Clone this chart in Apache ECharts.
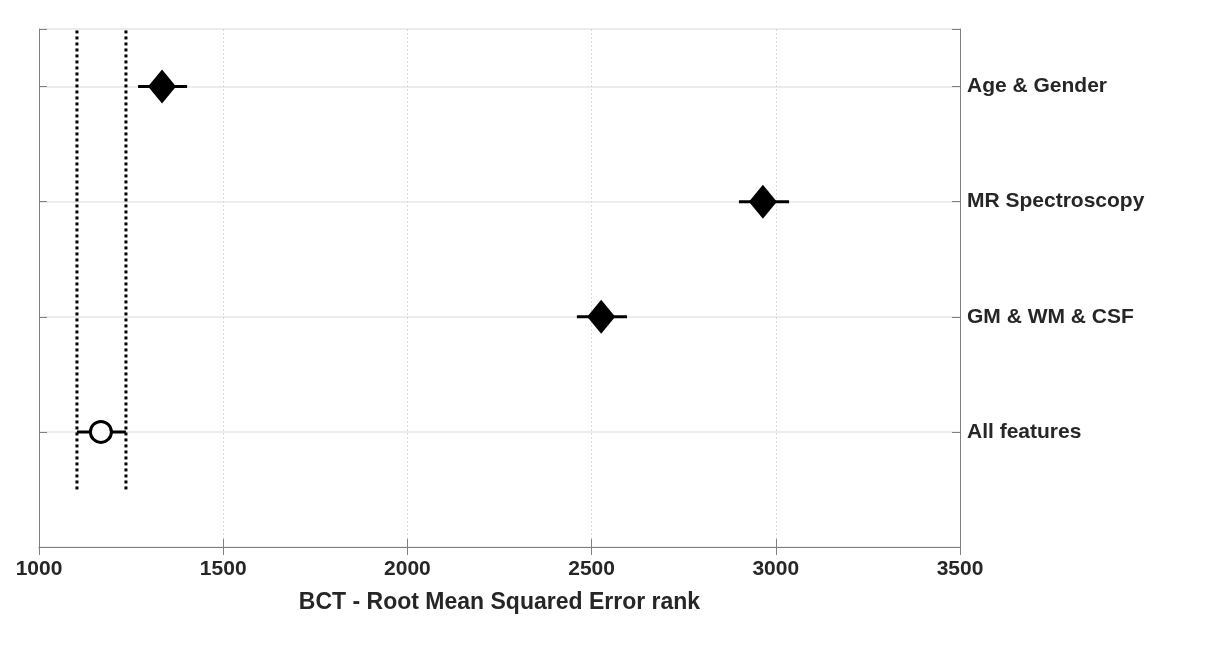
<!DOCTYPE html>
<html>
<head>
<meta charset="utf-8">
<script src="https://cdn.jsdelivr.net/npm/echarts@6/dist/echarts.min.js"></script>
<style>
  html, body { margin: 0; padding: 0; background: #fff; }
  #chart { width: 1222px; height: 648px; }
</style>
</head>
<body>
<div id="chart"></div>
<script>
// categories, bottom to top (y = 1..4)
const categories = ['All features', 'GM & WM & CSF', 'MR Spectroscopy', 'Age & Gender'];
const rankMean = [1168, 2526, 2965, 1334];
const rankLow = [1103, 2460, 2900, 1269];
const rankHigh = [1236, 2596, 3036, 1402];
const isReference = [true, false, false, false];
// dotted reference band (All features interval)
const refLines = [1103, 1236];
const xTicks = [1000, 1500, 2000, 2500, 3000, 3500];

const textColor = '#262626';
const frameColor = '#808080';
const font = 'Liberation Sans, Arial, sans-serif';

const chart = echarts.init(document.getElementById('chart'));

const errData = categories.map((c, i) => [rankLow[i], rankHigh[i], i + 1]);
const diamondData = [];
const circleData = [];
categories.forEach((c, i) => {
    if (isReference[i]) circleData.push([rankMean[i], i + 1]);
    else diamondData.push([rankMean[i], i + 1]);
});

const option = {
    animation: false,
    grid: { left: 39, right: 262, top: 29, bottom: 101 },
    xAxis: [
        {
            type: 'value', min: xTicks[0], max: xTicks[xTicks.length - 1], interval: 500,
            position: 'bottom',
            name: 'BCT - Root Mean Squared Error rank',
            nameLocation: 'middle', nameGap: 44,
            nameTextStyle: { color: textColor, fontSize: 23, fontWeight: 'bold', fontFamily: font },
            axisLine: { show: true, lineStyle: { color: frameColor, width: 1 } },
            axisTick: { show: true, inside: true, length: 8, lineStyle: { color: frameColor } },
            axisLabel: {
                color: textColor, fontSize: 21, fontWeight: 'bold', fontFamily: font, margin: 12,
                formatter: v => String(v)
            },
            splitLine: { show: true, lineStyle: { color: '#d9d9d9', type: [2, 2], width: 1 } }
        },
        {
            type: 'value', min: xTicks[0], max: xTicks[xTicks.length - 1], interval: 500,
            position: 'top',
            axisLine: { show: true, lineStyle: { color: frameColor, width: 1 } },
            axisTick: { show: true, inside: true, length: 8, lineStyle: { color: frameColor } },
            axisLabel: { show: false },
            splitLine: { show: false }
        }
    ],
    yAxis: [
        {
            type: 'value', min: 0, max: 4.5, interval: 1,
            position: 'right',
            axisLine: { show: true, lineStyle: { color: frameColor, width: 1 } },
            axisTick: { show: true, inside: true, length: 8, lineStyle: { color: frameColor } },
            axisLabel: {
                color: textColor, fontSize: 21, fontWeight: 'bold', fontFamily: font, margin: 7,
                padding: [5, 0, 0, 0],
                formatter: v => (Number.isInteger(v) && v >= 1 && v <= categories.length) ? categories[v - 1] : ''
            },
            splitLine: { show: true, lineStyle: { color: '#e6e6e6', width: 1.5 } }
        },
        {
            type: 'value', min: 0, max: 4.5, interval: 1,
            position: 'left',
            axisLine: { show: true, lineStyle: { color: frameColor, width: 1 } },
            axisTick: { show: true, inside: true, length: 8, lineStyle: { color: frameColor } },
            axisLabel: { show: false },
            splitLine: { show: false }
        }
    ],
    series: [
        {
            type: 'line',
            xAxisIndex: 0, yAxisIndex: 0,
            data: [[refLines[0], 0.5], [refLines[0], 4.5]],
            symbol: 'none',
            lineStyle: { color: '#000', width: 3, type: [3, 3] },
            z: 3
        },
        {
            type: 'line',
            xAxisIndex: 0, yAxisIndex: 0,
            data: [[refLines[1], 0.5], [refLines[1], 4.5]],
            symbol: 'none',
            lineStyle: { color: '#000', width: 3, type: [3, 3] },
            z: 3
        },
        {
            type: 'custom',
            xAxisIndex: 0, yAxisIndex: 0,
            data: errData,
            encode: { x: [0, 1], y: 2 },
            renderItem: (params, api) => {
                const a = api.coord([api.value(0), api.value(2)]);
                const b = api.coord([api.value(1), api.value(2)]);
                return {
                    type: 'line',
                    shape: { x1: a[0], y1: a[1], x2: b[0], y2: b[1] },
                    style: { stroke: '#000', lineWidth: 3 }
                };
            },
            z: 4
        },
        {
            type: 'scatter',
            xAxisIndex: 0, yAxisIndex: 0,
            data: diamondData,
            symbol: 'diamond',
            symbolSize: [28, 34],
            itemStyle: { color: '#000', opacity: 1 },
            z: 5
        },
        {
            type: 'scatter',
            xAxisIndex: 0, yAxisIndex: 0,
            data: circleData,
            symbol: 'circle',
            symbolSize: 21,
            itemStyle: { color: '#fff', borderColor: '#000', borderWidth: 3, opacity: 1 },
            z: 5
        }
    ]
};

chart.setOption(option);
</script>
</body>
</html>
